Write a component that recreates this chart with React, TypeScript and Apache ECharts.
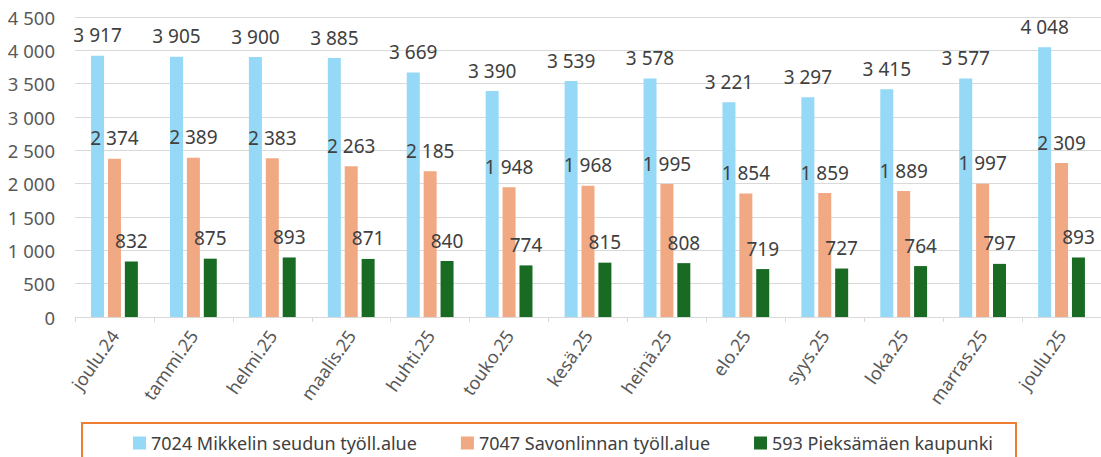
import React, { useEffect, useRef } from "react";
import * as echarts from "echarts";

const categories = [
  "joulu.24", "tammi.25", "helmi.25", "maalis.25", "huhti.25", "touko.25", "kesä.25",
  "heinä.25", "elo.25", "syys.25", "loka.25", "marras.25", "joulu.25",
];
const mikkeli = [3917, 3905, 3900, 3885, 3669, 3390, 3539, 3578, 3221, 3297, 3415, 3577, 4048];
const savonlinna = [2374, 2389, 2383, 2263, 2185, 1948, 1968, 1995, 1854, 1859, 1889, 1997, 2309];
const pieksamaki = [832, 875, 893, 871, 840, 774, 815, 808, 719, 727, 764, 797, 893];
const seriesNames = [
  "7024 Mikkelin seudun työll.alue",
  "7047 Savonlinnan työll.alue",
  "593 Pieksämäen kaupunki",
];
const colors = ["#95D9F6", "#F1A983", "#196B24"];

const FONT = "'Noto Sans', sans-serif";
const fmt = (v: number) => {
  const s = String(Math.round(v));
  return s.replace(/\B(?=(\d{3})+(?!\d))/g, " ");
};

export default function App() {
  const ref = useRef<HTMLDivElement>(null);
  useEffect(() => {
    if (!ref.current) return;
    const chart = echarts.init(ref.current, null, { renderer: "svg" });
    const mk = (name: string, data: number[], color: string) => ({
      name,
      type: "bar",
      data,
      barWidth: 13,
      barGap: "30%",
      itemStyle: { color },
      label: {
        show: true,
        position: "top",
        distance: 11,
        color: "#404040",
        fontSize: 19,
        fontFamily: FONT,
        formatter: (p: any) => fmt(p.value),
      },
    });
    chart.setOption({
      animation: false,
      backgroundColor: "#ffffff",
      textStyle: { fontFamily: FONT },
      grid: { left: 75, right: -6, top: 17, bottom: 140, containLabel: false },
      xAxis: {
        type: "category",
        data: categories,
        axisLine: { show: true, lineStyle: { color: "#D9D9D9", width: 1 } },
        axisTick: { show: true, length: 5, lineStyle: { color: "#D9D9D9" } },
        axisLabel: {
          rotate: 55,
          margin: 15,
          color: "#595959",
          fontSize: 18,
          fontFamily: FONT,
          hideOverlap: false,
        },
      },
      yAxis: {
        type: "value",
        min: 0,
        max: 4500,
        interval: 500,
        axisLine: { show: false },
        axisTick: { show: false },
        splitLine: { lineStyle: { color: "#D9D9D9", width: 1 } },
        axisLabel: {
          margin: 20,
          color: "#595959",
          fontSize: 18.5,
          fontFamily: FONT,
          formatter: (v: number) => fmt(v),
        },
      },
      legend: {
        left: 128,
        top: 429,
        itemWidth: 13,
        itemHeight: 13,
        itemGap: 44,
        icon: "rect",
        textStyle: { color: "#404040", fontSize: 18, fontFamily: FONT },
        data: seriesNames,
      },
      graphic: [
        {
          type: "rect",
          shape: { x: 82, y: 423, width: 934, height: 60 },
          style: { fill: "none", stroke: "#ED7D31", lineWidth: 2 },
          silent: true,
        },
      ],
      series: [
        mk(seriesNames[0], mikkeli, colors[0]),
        mk(seriesNames[1], savonlinna, colors[1]),
        mk(seriesNames[2], pieksamaki, colors[2]),
      ],
    });
    return () => chart.dispose();
  }, []);
  return (
    <div
      ref={ref}
      style={{ position: "fixed", left: 0, top: 0, width: 1101, height: 457, background: "#fff" }}
    />
  );
}
